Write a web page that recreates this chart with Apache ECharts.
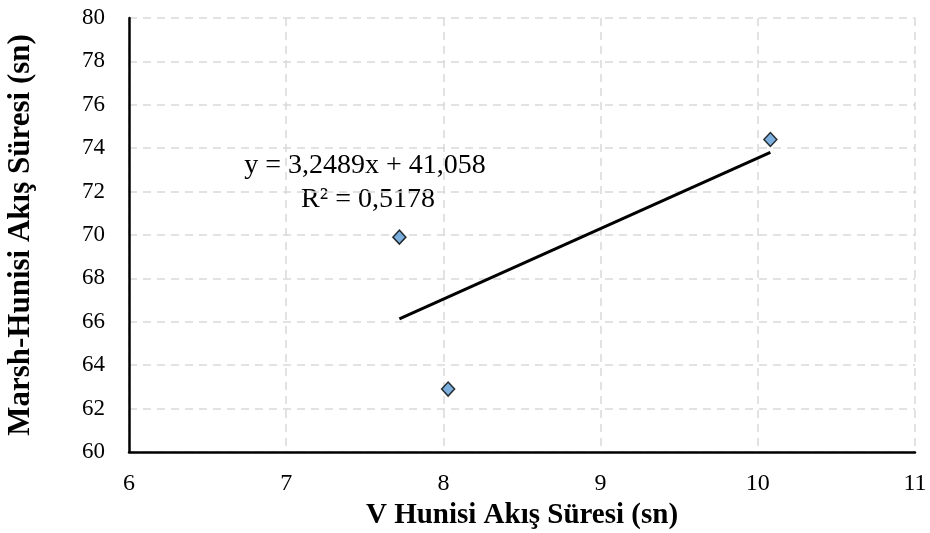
<!DOCTYPE html>
<html>
<head>
<meta charset="utf-8">
<script src="https://cdn.jsdelivr.net/npm/echarts@6/dist/echarts.min.js"></script>
<style>html,body{margin:0;padding:0;background:#fff}#c{width:930px;height:533px}</style>
</head>
<body>
<div id="c"></div>
<script>
const xValues = [7.72, 8.03, 10.08];
const yValues = [69.9, 62.9, 74.4];
const slope = 3.2489;
const intercept = 41.058;
const equationText = 'y = 3,2489x + 41,058';
const r2Text = 'R² = 0,5178';
const xTitle = 'V Hunisi Akış Süresi (sn)';
const yTitle = 'Marsh-Hunisi Akış Süresi (sn)';

const points = xValues.map((x, i) => [x, yValues[i]]);
const xMin = Math.min(...xValues), xMax = Math.max(...xValues);
const trend = [[xMin, slope * xMin + intercept], [xMax, slope * xMax + intercept]];

const chart = echarts.init(document.getElementById('c'));
const font = '"Liberation Serif", "Times New Roman", serif';
chart.setOption({
  animation: false,
  backgroundColor: '#fff',
  grid: { left: 129, right: 15, top: 18, bottom: 81, outerBoundsMode: 'none', containLabel: false },
  xAxis: {
    type: 'value', min: 6, max: 11, interval: 1,
    name: xTitle, nameLocation: 'middle', nameGap: 49,
    nameTextStyle: { fontFamily: font, fontWeight: 'bold', fontSize: 29, color: '#000' },
    axisLine: { show: true, onZero: false, lineStyle: { color: '#000', width: 2.5 } },
    axisTick: { show: false },
    axisLabel: { fontFamily: font, fontSize: 24, color: '#000', margin: 20 },
    splitLine: { show: true, lineStyle: { color: '#d9d9d9', type: [8, 6], width: 1.5 } }
  },
  yAxis: {
    type: 'value', min: 60, max: 80, interval: 2,
    name: yTitle, nameLocation: 'middle', nameGap: 93,
    nameTextStyle: { fontFamily: font, fontWeight: 'bold', fontSize: 31, color: '#000' },
    axisLine: { show: true, onZero: false, lineStyle: { color: '#000', width: 2.5 } },
    axisTick: { show: false },
    axisLabel: { fontFamily: font, fontSize: 23, color: '#000', margin: 24 },
    splitLine: { show: true, lineStyle: { color: '#d9d9d9', type: [8, 6], width: 1.5 } }
  },
  series: [
    {
      type: 'line', data: trend, symbol: 'none', z: 2,
      lineStyle: { color: '#000', width: 3 }
    },
    {
      type: 'scatter', data: points, symbol: 'diamond', symbolSize: [13, 14], z: 3,
      itemStyle: { color: '#5b9bd5', borderColor: '#000', borderWidth: 1.5 }
    }
  ],
  graphic: [
    { type: 'text', x: 365, y: 166, style: { text: equationText, font: '28px ' + font, fill: '#000', align: 'center', verticalAlign: 'middle' } },
    { type: 'text', x: 368, y: 200, style: { text: r2Text, font: '28px ' + font, fill: '#000', align: 'center', verticalAlign: 'middle' } }
  ]
});
</script>
</body>
</html>
